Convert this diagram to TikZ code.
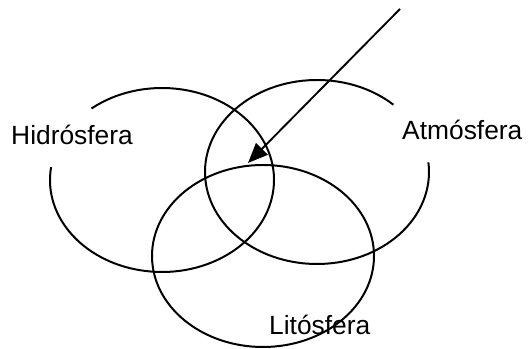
\documentclass[tikz,border=0pt]{standalone}
\usepackage{fontspec}
\setmainfont{Liberation Sans}
\usetikzlibrary{arrows.meta}
\tikzset{sphere/.style={line width=1.7pt},
 lbl/.style={anchor=base west,inner sep=0pt,font=\fontsize{22.5}{27}\selectfont}}
\begin{document}
\begin{tikzpicture}[x=0.03cm,y=0.03cm]
 \useasboundingbox (0,0) rectangle (528,349);
 % the three spheres
 \draw[sphere] (162,169) ++(172:112 and 92) arc[start angle=172,end angle=489,x radius=112,y radius=92];
 \draw[sphere] (317,177) ++(47:112 and 92) arc[start angle=47,end angle=366,x radius=112,y radius=92];
 \draw[sphere] (263,93) ellipse[x radius=111,y radius=91];
 \node[lbl] (hidro) at (11,204) {Hidrósfera};
 \node[lbl] (atmo) at (402,209) {Atmósfera};
 \node[lbl] (lito) at (269,14) {Litósfera};
 \coordinate (from) at (400,340); \coordinate (tip) at (248,186);
 \draw[line width=1.6pt,-{Triangle[length=17pt,width=14pt]}] (from) -- (tip);
\end{tikzpicture}
\end{document}
